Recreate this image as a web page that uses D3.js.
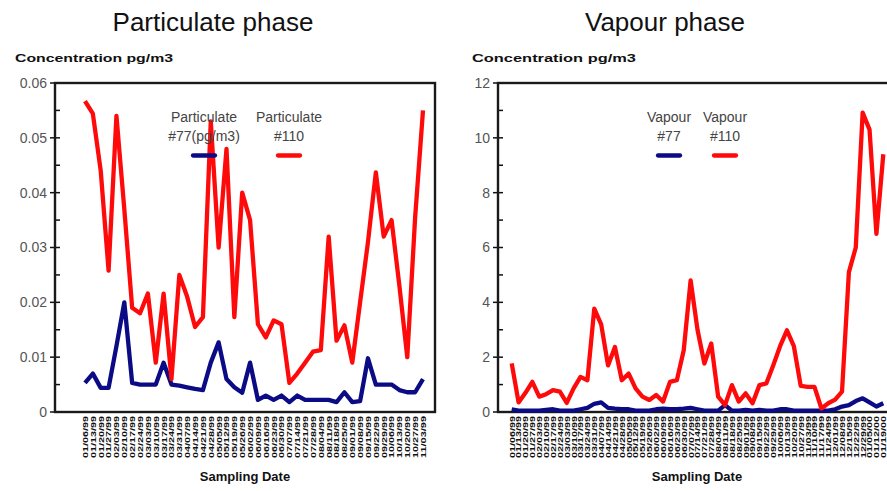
<!DOCTYPE html>
<html><head><meta charset="utf-8">
<script src="https://cdn.jsdelivr.net/npm/d3@7"></script>
<style>body{margin:0;background:#fff}svg{display:block}</style>
</head><body><svg id="c" width="887" height="491"></svg>
<script>
// ---------- data ----------
const partDates = ["01/06/99","01/13/99","01/20/99","01/27/99","02/03/99","02/10/99","02/17/99","02/24/99","03/03/99","03/10/99","03/17/99","03/24/99","03/31/99","04/07/99","04/14/99","04/21/99","04/28/99","05/05/99","05/12/99","05/19/99","05/26/99","06/02/99","06/09/99","06/16/99","06/23/99","06/30/99","07/07/99","07/14/99","07/21/99","07/28/99","08/04/99","08/11/99","08/18/99","08/25/99","09/01/99","09/08/99","09/15/99","09/22/99","09/29/99","10/06/99","10/13/99","10/20/99","10/27/99","11/03/99"];
const part77 = [0.0053,0.007,0.0044,0.0044,0.012,0.020,0.0053,0.005,0.005,0.005,0.009,0.005,0.0048,0.0045,0.0042,0.004,0.009,0.0127,0.006,0.0045,0.0035,0.009,0.0022,0.003,0.0022,0.003,0.0018,0.003,0.0022,0.0022,0.0022,0.0022,0.0018,0.0036,0.0018,0.002,0.0098,0.005,0.005,0.005,0.004,0.0036,0.0036,0.006];
const part110 = [0.0567,0.0544,0.044,0.0258,0.054,0.037,0.019,0.018,0.0216,0.009,0.0216,0.006,0.025,0.021,0.0155,0.0173,0.053,0.030,0.048,0.0173,0.040,0.035,0.016,0.0136,0.0167,0.016,0.0053,0.007,0.009,0.011,0.0113,0.032,0.013,0.0158,0.009,0.020,0.031,0.0437,0.032,0.035,0.023,0.010,0.0355,0.055];
const partTicks = [0,0.01,0.02,0.03,0.04,0.05,0.06];
const partTickLabels = ["0","0.01","0.02","0.03","0.04","0.05","0.06"];

const vapDates = ["01/06/99","01/13/99","01/20/99","01/27/99","02/03/99","02/10/99","02/17/99","02/24/99","03/03/99","03/10/99","03/17/99","03/24/99","03/31/99","04/07/99","04/14/99","04/21/99","04/28/99","05/05/99","05/12/99","05/19/99","05/26/99","06/02/99","06/09/99","06/16/99","06/23/99","06/30/99","07/07/99","07/14/99","07/21/99","07/28/99","08/04/99","08/11/99","08/18/99","08/25/99","09/01/99","09/08/99","09/15/99","09/22/99","09/29/99","10/06/99","10/13/99","10/20/99","10/27/99","11/03/99","11/10/99","11/17/99","11/24/99","12/01/99","12/08/99","12/15/99","12/22/99","12/29/99","01/05/00","01/12/00","01/19/00"];
const vap77 = [0.1,0.05,0.05,0.05,0.05,0.08,0.1,0.05,0.05,0.05,0.1,0.15,0.3,0.35,0.15,0.12,0.1,0.1,0.05,0.05,0.05,0.1,0.12,0.1,0.1,0.12,0.15,0.1,0.05,0.05,0.05,0.25,0.05,0.05,0.08,0.05,0.08,0.05,0.05,0.1,0.1,0.05,0.05,0.05,0.05,0.05,0.05,0.1,0.2,0.25,0.4,0.5,0.35,0.2,0.32];
const vap110 = [1.77,0.35,0.7,1.1,0.56,0.65,0.8,0.74,0.33,0.86,1.28,1.16,3.77,3.2,1.7,2.37,1.16,1.4,0.86,0.56,0.44,0.62,0.38,1.1,1.16,2.25,4.8,3.0,1.77,2.5,0.56,0.25,0.98,0.38,0.68,0.32,0.98,1.04,1.7,2.4,2.98,2.4,0.95,0.92,0.92,0.13,0.32,0.45,0.74,5.1,6.0,10.92,10.3,6.5,9.4];
const vapTicks = [0,2,4,6,8,10,12];
const vapTickLabels = ["0","2","4","6","8","10","12"];

const svg = d3.select("#c");
const FONT = "Liberation Sans, Arial, sans-serif";

function panel(o) {
  const g = svg.append("g");
  const x = d3.scalePoint().domain(o.dates).range(o.xr);
  const y = d3.scaleLinear().domain([0, o.ymax]).range([412, 83]);
  // title
  g.append("text").attr("x", o.titleX).attr("y", 31).attr("text-anchor", "middle")
    .attr("font-family", FONT).attr("font-size", 26).attr("fill", "#111").text(o.title);
  g.append("text").attr("x", o.ylabX).attr("y", 62).attr("font-family", FONT)
    .attr("font-size", 11.5).attr("font-weight", "bold").attr("fill", "#111")
    .attr("textLength", o.ylabW).attr("lengthAdjust", "spacingAndGlyphs").text(o.ylab);
  // y axis
  const yAxis = d3.axisLeft(y).tickValues(o.ticks).tickSize(0).tickPadding(0)
    .tickFormat((d, i) => o.tickLabels[i]);
  const ya = g.append("g").attr("transform", `translate(${o.frame[0] - 8},0)`).call(yAxis);
  ya.select(".domain").remove();
  ya.selectAll("text").attr("font-family", FONT).attr("font-size", 14).attr("fill", "#555");
  // major/minor tick marks
  const minor = d3.range(0, o.ticks.length * 2 - 1).map(i => i * o.ticks[1] / 2);
  g.selectAll(".mt").data(minor).join("line")
    .attr("x1", (d, i) => o.frame[0] - (i % 2 === 0 ? 5 : 0))
    .attr("x2", o.frame[0] + 5)
    .attr("y1", d => y(d)).attr("y2", d => y(d))
    .attr("stroke", "#111").attr("stroke-width", 1.5);
  // frame
  g.append("rect").attr("x", o.frame[0]).attr("y", 83)
    .attr("width", o.frame[1] - o.frame[0]).attr("height", 329)
    .attr("fill", "none").attr("stroke", "#1a1a1a").attr("stroke-width", 2.4);
  // x labels
  const xAxis = d3.axisBottom(x).tickSize(0).tickPadding(0);
  const xa = g.append("g").attr("transform", "translate(0,416)").call(xAxis);
  xa.select(".domain").remove();
  xa.selectAll("text").attr("font-family", FONT).attr("font-size", 7.5).attr("fill", "#111")
    .attr("font-weight", "bold")
    .attr("text-anchor", "end").attr("dy", "0.32em")
    .attr("transform", "rotate(-90)").attr("x", 0).attr("y", 0)
    .attr("textLength", 42).attr("lengthAdjust", "spacingAndGlyphs");
  g.append("text").attr("x", o.xlabX).attr("y", 481).attr("text-anchor", "middle")
    .attr("font-family", FONT).attr("font-size", 13).attr("font-weight", "bold")
    .attr("fill", "#111").text("Sampling Date");
  // lines
  const line = d3.line().x((d, i) => x(o.dates[i])).y(d => y(d));
  g.append("path").datum(o.s77).attr("d", line).attr("fill", "none")
    .attr("stroke", "#0b0b85").attr("stroke-width", 4.3).attr("stroke-linejoin", "round");
  g.append("path").datum(o.s110).attr("d", line).attr("fill", "none")
    .attr("stroke", "#ff0a0a").attr("stroke-width", 4.3).attr("stroke-linejoin", "round");
  // legend
  o.legend.forEach(L => {
    L.lines.forEach((t, k) => {
      g.append("text").attr("x", L.cx).attr("y", 122 + k * 19).attr("text-anchor", "middle")
        .attr("font-family", FONT).attr("font-size", 14).attr("fill", "#444").text(t);
    });
    g.append("line").attr("x1", L.cx - 11).attr("x2", L.cx + 11).attr("y1", 155.5).attr("y2", 155.5)
      .attr("stroke", L.color).attr("stroke-width", 4.3).attr("stroke-linecap", "round");
  });
}

panel({
  title: "Particulate phase", titleX: 213,
  ylab: "Concentration pg/m3", ylabX: 15, ylabW: 158,
  dates: partDates, s77: part77, s110: part110, ymax: 0.06,
  ticks: partTicks, tickLabels: partTickLabels,
  xr: [85, 423], frame: [55, 435], xlabX: 245,
  legend: [
    {cx: 204, lines: ["Particulate", "#77(pg/m3)"], color: "#0b0b85"},
    {cx: 289, lines: ["Particulate", "#110"], color: "#ff0a0a"}
  ]
});
panel({
  title: "Vapour phase", titleX: 665,
  ylab: "Concentration  pg/m3", ylabX: 472, ylabW: 164,
  dates: vapDates, s77: vap77, s110: vap110, ymax: 12,
  ticks: vapTicks, tickLabels: vapTickLabels,
  xr: [511.7, 883.3], frame: [498, 900], xlabX: 697,
  legend: [
    {cx: 669, lines: ["Vapour", "#77"], color: "#0b0b85"},
    {cx: 725, lines: ["Vapour", "#110"], color: "#ff0a0a"}
  ]
});
</script></body></html>
